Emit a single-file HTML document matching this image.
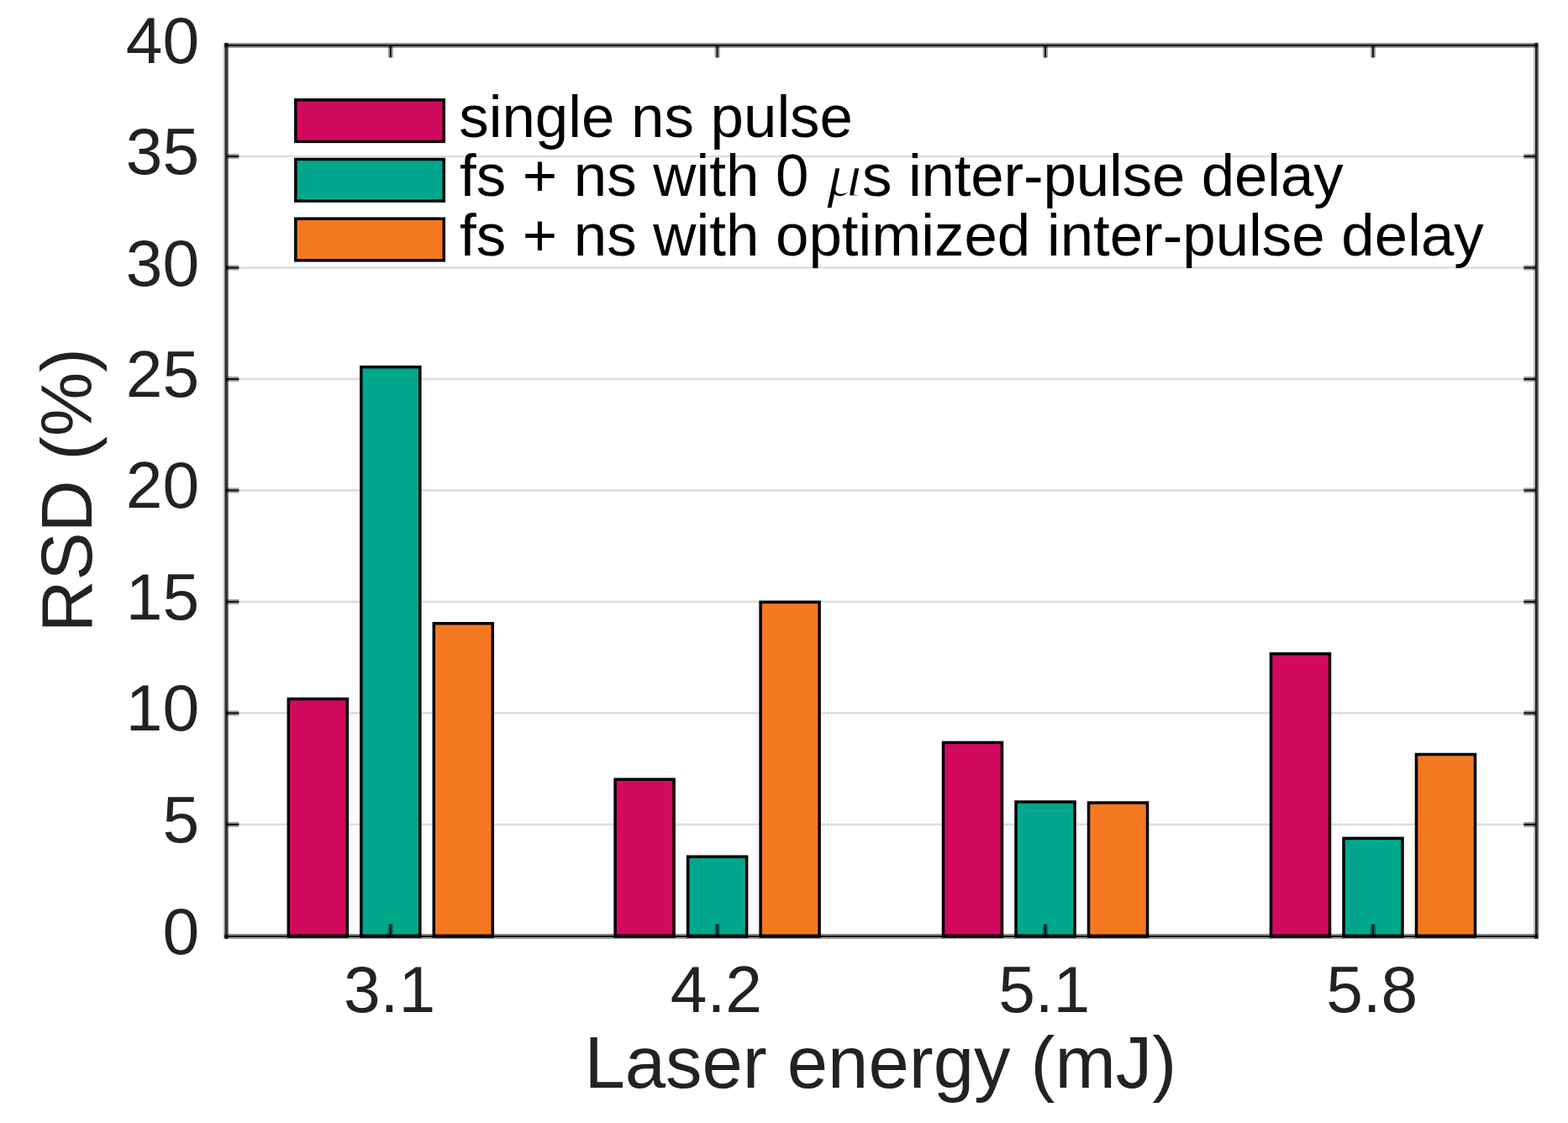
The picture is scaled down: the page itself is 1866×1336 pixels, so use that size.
<!DOCTYPE html>
<html><head><meta charset="utf-8"><title>RSD bar chart</title>
<style>
html,body{margin:0;padding:0;background:#fff;}
body{width:1866px;height:1336px;overflow:hidden;}
svg{display:block;}
.tk{font-family:"Liberation Sans",Arial,Helvetica,sans-serif;fill:#222;}
.lg{font-family:"Liberation Sans",Arial,Helvetica,sans-serif;fill:#000;}
.mu{font-family:"Liberation Serif","DejaVu Serif",serif;font-style:italic;stroke:#fff;stroke-width:1.6px;}
.ax rect{shape-rendering:crispEdges;}
</style></head><body>
<svg width="1866" height="1336" viewBox="0 0 1866 1336">
<rect x="0" y="0" width="1866" height="1336" fill="#fff"/>
<g stroke="#dedede" stroke-width="2.6" fill="none">
<line x1="269.3" y1="980.9" x2="1828.4" y2="980.9"/>
<line x1="269.3" y1="848.4" x2="1828.4" y2="848.4"/>
<line x1="269.3" y1="715.9" x2="1828.4" y2="715.9"/>
<line x1="269.3" y1="583.4" x2="1828.4" y2="583.4"/>
<line x1="269.3" y1="451.0" x2="1828.4" y2="451.0"/>
<line x1="269.3" y1="318.5" x2="1828.4" y2="318.5"/>
<line x1="269.3" y1="186.0" x2="1828.4" y2="186.0"/>
</g>
<g stroke="#000" stroke-width="3.5" stroke-linejoin="miter">
<rect x="343.3" y="831.5" width="70.0" height="282.5" fill="#d20a5f"/>
<rect x="429.8" y="436.6" width="70.0" height="677.4" fill="#01a78d"/>
<rect x="516.3" y="741.7" width="70.0" height="372.3" fill="#f47920"/>
<rect x="732.1" y="927.2" width="70.0" height="186.8" fill="#d20a5f"/>
<rect x="818.6" y="1019.2" width="70.0" height="94.8" fill="#01a78d"/>
<rect x="905.1" y="716.3" width="70.0" height="397.7" fill="#f47920"/>
<rect x="1122.5" y="883.4" width="70.0" height="230.6" fill="#d20a5f"/>
<rect x="1209.0" y="954.0" width="70.0" height="160.0" fill="#01a78d"/>
<rect x="1295.5" y="955.0" width="70.0" height="159.0" fill="#f47920"/>
<rect x="1512.5" y="777.8" width="70.0" height="336.2" fill="#d20a5f"/>
<rect x="1599.0" y="997.3" width="70.0" height="116.7" fill="#01a78d"/>
<rect x="1685.5" y="897.5" width="70.0" height="216.5" fill="#f47920"/>
</g>
<g stroke="#000" stroke-width="3.5">
<rect x="351.8" y="118.8" width="176.5" height="49.6" fill="#d20a5f"/>
<rect x="351.8" y="189.5" width="176.5" height="49.6" fill="#01a78d"/>
<rect x="351.8" y="260.2" width="176.5" height="49.6" fill="#f47920"/>
</g>
<g class="lg" font-size="70.85">
<text x="546.3" y="162.5">single ns pulse</text>
<text x="547" y="233.2">fs + ns with 0</text>
<text class="mu" transform="translate(983.6 233.2) scale(1.2 1)">μ</text>
<text x="1026.1" y="233.2" textLength="572.5" lengthAdjust="spacing">s inter-pulse delay</text>
<text x="547" y="304">fs + ns with optimized inter-pulse delay</text>
</g>
<g class="ax" fill="#000">
<rect x="267" y="51" width="1563" height="1" fill-opacity="0.435"/>
<rect x="267" y="52" width="1563" height="1" fill-opacity="0.435"/>
<rect x="267" y="53" width="1563" height="1" fill-opacity="0.933"/>
<rect x="267" y="54" width="1563" height="1" fill-opacity="0.933"/>
<rect x="267" y="55" width="1563" height="1" fill-opacity="0.412"/>
<rect x="267" y="56" width="1563" height="1" fill-opacity="0.412"/>
<rect x="267" y="1111" width="1563" height="1" fill-opacity="0.467"/>
<rect x="267" y="1112" width="1563" height="1" fill-opacity="0.467"/>
<rect x="267" y="1113" width="1563" height="1" fill-opacity="0.933"/>
<rect x="267" y="1114" width="1563" height="1" fill-opacity="0.933"/>
<rect x="267" y="1115" width="1563" height="1" fill-opacity="0.388"/>
<rect x="267" y="1116" width="1563" height="1" fill-opacity="0.388"/>
<rect x="265" y="51" width="1" height="1066" fill-opacity="0.067"/>
<rect x="266" y="51" width="1" height="1066" fill-opacity="0.231"/>
<rect x="267" y="51" width="1" height="1066" fill-opacity="0.498"/>
<rect x="268" y="51" width="1" height="1066" fill-opacity="0.851"/>
<rect x="269" y="51" width="1" height="1066" fill-opacity="0.812"/>
<rect x="270" y="51" width="1" height="1066" fill-opacity="0.718"/>
<rect x="271" y="51" width="1" height="1066" fill-opacity="0.498"/>
<rect x="1825" y="51" width="1" height="1066" fill-opacity="0.259"/>
<rect x="1826" y="51" width="1" height="1066" fill-opacity="0.259"/>
<rect x="1827" y="51" width="1" height="1066" fill-opacity="0.890"/>
<rect x="1828" y="51" width="1" height="1066" fill-opacity="0.863"/>
<rect x="1829" y="51" width="1" height="1066" fill-opacity="0.647"/>
<rect x="1830" y="51" width="1" height="1066" fill-opacity="0.600"/>
</g>
<g fill="#000">
<rect x="461.8" y="54" width="6" height="14.5" fill-opacity="0.38"/>
<rect x="463.8" y="54" width="2" height="14.5" fill-opacity="0.88"/>
<rect x="461.8" y="1099.5" width="6" height="14.5" fill-opacity="0.38"/>
<rect x="463.8" y="1099.5" width="2" height="14.5" fill-opacity="0.88"/>
<rect x="850.6" y="54" width="6" height="14.5" fill-opacity="0.38"/>
<rect x="852.6" y="54" width="2" height="14.5" fill-opacity="0.88"/>
<rect x="850.6" y="1099.5" width="6" height="14.5" fill-opacity="0.38"/>
<rect x="852.6" y="1099.5" width="2" height="14.5" fill-opacity="0.88"/>
<rect x="1241.0" y="54" width="6" height="14.5" fill-opacity="0.38"/>
<rect x="1243.0" y="54" width="2" height="14.5" fill-opacity="0.88"/>
<rect x="1241.0" y="1099.5" width="6" height="14.5" fill-opacity="0.38"/>
<rect x="1243.0" y="1099.5" width="2" height="14.5" fill-opacity="0.88"/>
<rect x="1631.0" y="54" width="6" height="14.5" fill-opacity="0.38"/>
<rect x="1633.0" y="54" width="2" height="14.5" fill-opacity="0.88"/>
<rect x="1631.0" y="1099.5" width="6" height="14.5" fill-opacity="0.38"/>
<rect x="1633.0" y="1099.5" width="2" height="14.5" fill-opacity="0.88"/>
<rect x="269" y="977.9" width="15.3" height="6" fill-opacity="0.38"/>
<rect x="269" y="979.9" width="15.3" height="2" fill-opacity="0.88"/>
<rect x="1813.4" y="977.9" width="14.6" height="6" fill-opacity="0.38"/>
<rect x="1813.4" y="979.9" width="14.6" height="2" fill-opacity="0.88"/>
<rect x="269" y="845.4" width="15.3" height="6" fill-opacity="0.38"/>
<rect x="269" y="847.4" width="15.3" height="2" fill-opacity="0.88"/>
<rect x="1813.4" y="845.4" width="14.6" height="6" fill-opacity="0.38"/>
<rect x="1813.4" y="847.4" width="14.6" height="2" fill-opacity="0.88"/>
<rect x="269" y="712.9" width="15.3" height="6" fill-opacity="0.38"/>
<rect x="269" y="714.9" width="15.3" height="2" fill-opacity="0.88"/>
<rect x="1813.4" y="712.9" width="14.6" height="6" fill-opacity="0.38"/>
<rect x="1813.4" y="714.9" width="14.6" height="2" fill-opacity="0.88"/>
<rect x="269" y="580.4" width="15.3" height="6" fill-opacity="0.38"/>
<rect x="269" y="582.4" width="15.3" height="2" fill-opacity="0.88"/>
<rect x="1813.4" y="580.4" width="14.6" height="6" fill-opacity="0.38"/>
<rect x="1813.4" y="582.4" width="14.6" height="2" fill-opacity="0.88"/>
<rect x="269" y="448.0" width="15.3" height="6" fill-opacity="0.38"/>
<rect x="269" y="450.0" width="15.3" height="2" fill-opacity="0.88"/>
<rect x="1813.4" y="448.0" width="14.6" height="6" fill-opacity="0.38"/>
<rect x="1813.4" y="450.0" width="14.6" height="2" fill-opacity="0.88"/>
<rect x="269" y="315.5" width="15.3" height="6" fill-opacity="0.38"/>
<rect x="269" y="317.5" width="15.3" height="2" fill-opacity="0.88"/>
<rect x="1813.4" y="315.5" width="14.6" height="6" fill-opacity="0.38"/>
<rect x="1813.4" y="317.5" width="14.6" height="2" fill-opacity="0.88"/>
<rect x="269" y="183.0" width="15.3" height="6" fill-opacity="0.38"/>
<rect x="269" y="185.0" width="15.3" height="2" fill-opacity="0.88"/>
<rect x="1813.4" y="183.0" width="14.6" height="6" fill-opacity="0.38"/>
<rect x="1813.4" y="185.0" width="14.6" height="2" fill-opacity="0.88"/>
</g>
<g class="tk" font-size="78.5" text-anchor="end">
<text x="237.2" y="1134.9">0</text>
<text x="237.2" y="1001.9">5</text>
<text x="237.2" y="869.4">10</text>
<text x="237.2" y="736.9">15</text>
<text x="237.2" y="604.4">20</text>
<text x="237.2" y="472.0">25</text>
<text x="237.2" y="339.5">30</text>
<text x="237.2" y="207.0">35</text>
<text x="237.2" y="75.0">40</text>
</g>
<g class="tk" font-size="78.5" text-anchor="middle">
<text x="463.5" y="1204">3.1</text>
<text x="852.3" y="1204">4.2</text>
<text x="1242.7" y="1204">5.1</text>
<text x="1632.7" y="1204">5.8</text>
</g>
<g class="tk">
<text x="695.4" y="1293.6" font-size="86.86">Laser energy (mJ)</text>
<text transform="translate(109.3 752.3) rotate(-90)" x="0" y="0" font-size="85.7">RSD (%)</text>
</g>
</svg></body></html>
